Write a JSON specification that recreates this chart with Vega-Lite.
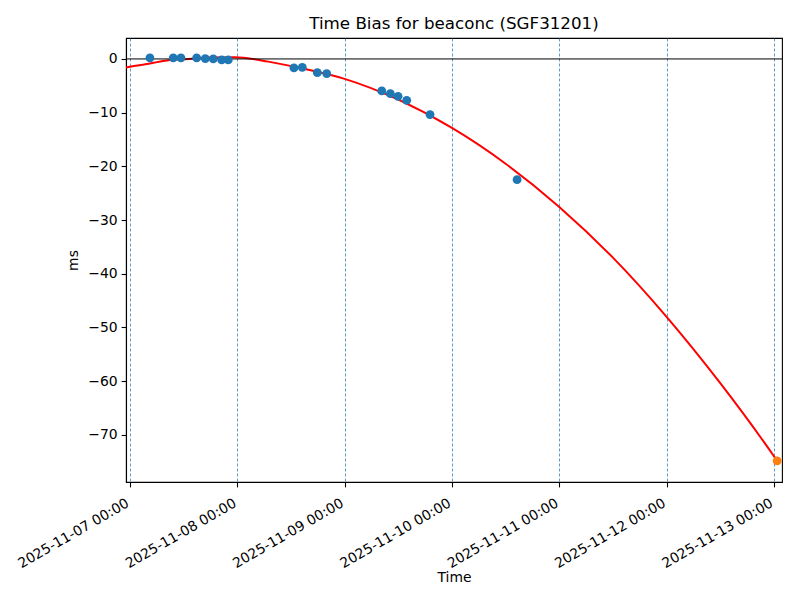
{
  "$schema": "https://vega.github.io/schema/vega-lite/v6.json",
  "autosize": "none",
  "width": 656,
  "height": 444,
  "padding": {"left": 126, "top": 38, "right": 18, "bottom": 118},
  "background": "white",
  "config": {
    "font": "DejaVu Sans",
    "view": {"stroke": "black", "strokeWidth": 1.1},
    "axis": {
      "labelFont": "DejaVu Sans",
      "labelFontSize": 13.9,
      "labelColor": "black",
      "titleFont": "DejaVu Sans",
      "titleFontSize": 13.9,
      "titleFontWeight": "normal",
      "titleColor": "black",
      "domainColor": "black",
      "domainWidth": 1.1,
      "tickColor": "black",
      "tickWidth": 1.1,
      "tickSize": 4.9
    },
    "title": {"font": "DejaVu Sans", "fontSize": 16.7, "fontWeight": "normal", "color": "black"}
  },
  "title": {"text": "Time Bias for beaconc (SGF31201)", "offset": 5},
  "datasets": {
    "fit": [
      {"time": "2025-11-06T23:07:00Z", "ms": -1.62},
      {"time": "2025-11-07T00:00:00Z", "ms": -1.45},
      {"time": "2025-11-07T03:26:00Z", "ms": -1.0},
      {"time": "2025-11-07T07:54:00Z", "ms": -0.32},
      {"time": "2025-11-07T13:08:00Z", "ms": 0.0},
      {"time": "2025-11-07T18:00:00Z", "ms": 0.25},
      {"time": "2025-11-07T23:30:00Z", "ms": 0.3},
      {"time": "2025-11-08T06:56:00Z", "ms": -0.5},
      {"time": "2025-11-08T14:24:00Z", "ms": -1.75},
      {"time": "2025-11-09T00:00:00Z", "ms": -3.72},
      {"time": "2025-11-09T12:00:00Z", "ms": -7.59},
      {"time": "2025-11-10T00:00:00Z", "ms": -12.85},
      {"time": "2025-11-10T12:00:00Z", "ms": -19.51},
      {"time": "2025-11-11T00:00:00Z", "ms": -27.56},
      {"time": "2025-11-11T12:00:00Z", "ms": -37.01},
      {"time": "2025-11-12T00:00:00Z", "ms": -48.04},
      {"time": "2025-11-12T12:00:00Z", "ms": -60.4},
      {"time": "2025-11-13T00:00:00Z", "ms": -74.0},
      {"time": "2025-11-13T00:43:00Z", "ms": -74.86}
    ],
    "obs": [
      {"time": "2025-11-07T04:28:00Z", "ms": 0.19},
      {"time": "2025-11-07T09:41:00Z", "ms": 0.19},
      {"time": "2025-11-07T11:24:00Z", "ms": 0.19},
      {"time": "2025-11-07T14:55:00Z", "ms": 0.19},
      {"time": "2025-11-07T16:51:00Z", "ms": 0.06},
      {"time": "2025-11-07T18:38:00Z", "ms": 0.0},
      {"time": "2025-11-07T20:31:00Z", "ms": -0.19},
      {"time": "2025-11-07T21:59:00Z", "ms": -0.19},
      {"time": "2025-11-08T12:40:00Z", "ms": -1.68},
      {"time": "2025-11-08T14:32:00Z", "ms": -1.56},
      {"time": "2025-11-08T17:54:00Z", "ms": -2.55},
      {"time": "2025-11-08T20:00:00Z", "ms": -2.73},
      {"time": "2025-11-09T08:18:00Z", "ms": -5.96},
      {"time": "2025-11-09T10:13:00Z", "ms": -6.46},
      {"time": "2025-11-09T11:57:00Z", "ms": -6.96},
      {"time": "2025-11-09T13:53:00Z", "ms": -7.71},
      {"time": "2025-11-09T19:06:00Z", "ms": -10.37},
      {"time": "2025-11-10T14:34:00Z", "ms": -22.48}
    ],
    "pred": [
      {"time": "2025-11-13T00:43:00Z", "ms": -74.86}
    ]
  },
  "encoding": {
    "x": {
      "field": "time",
      "type": "temporal",
      "title": "Time",
      "scale": {"type": "utc", "domain": [1762470420000, 1762998480000], "nice": false},
      "axis": {
        "values": [1762473600000, 1762560000000, 1762646400000, 1762732800000, 1762819200000, 1762905600000, 1762992000000],
        "format": "%Y-%m-%d %H:%M",
        "labelAngle": -30,
        "labelAlign": "right",
        "labelBaseline": "top",
        "labelPadding": 9,
        "labelOffset": -6,
        "labelOverlap": false,
        "labelFlush": false,
        "grid": true,
        "gridColor": "#1f77b4",
        "gridOpacity": 0.9,
        "gridWidth": 0.8,
        "gridDash": [3, 2],
        "titlePadding": 0
      }
    },
    "y": {
      "field": "ms",
      "type": "quantitative",
      "title": "ms",
      "scale": {"domain": [-78.8, 3.9], "nice": false, "zero": false},
      "axis": {
        "values": [-70, -60, -50, -40, -30, -20, -10, 0],
        "grid": false,
        "labelPadding": 4,
        "titlePadding": 7
      }
    }
  },
  "layer": [
    {
      "data": {"name": "fit"},
      "mark": {"type": "line", "color": "#ff0000", "strokeWidth": 2, "interpolate": "monotone", "clip": true}
    },
    {
      "data": {"name": "pred"},
      "mark": {"type": "rule", "color": "black", "strokeWidth": 1},
      "encoding": {"x": null, "y": {"datum": 0}}
    },
    {
      "data": {"name": "obs"},
      "mark": {"type": "circle", "color": "#1f77b4", "size": 78, "opacity": 1}
    },
    {
      "data": {"name": "pred"},
      "mark": {"type": "circle", "color": "#ff7f0e", "size": 78, "opacity": 1, "clip": false}
    }
  ]
}
